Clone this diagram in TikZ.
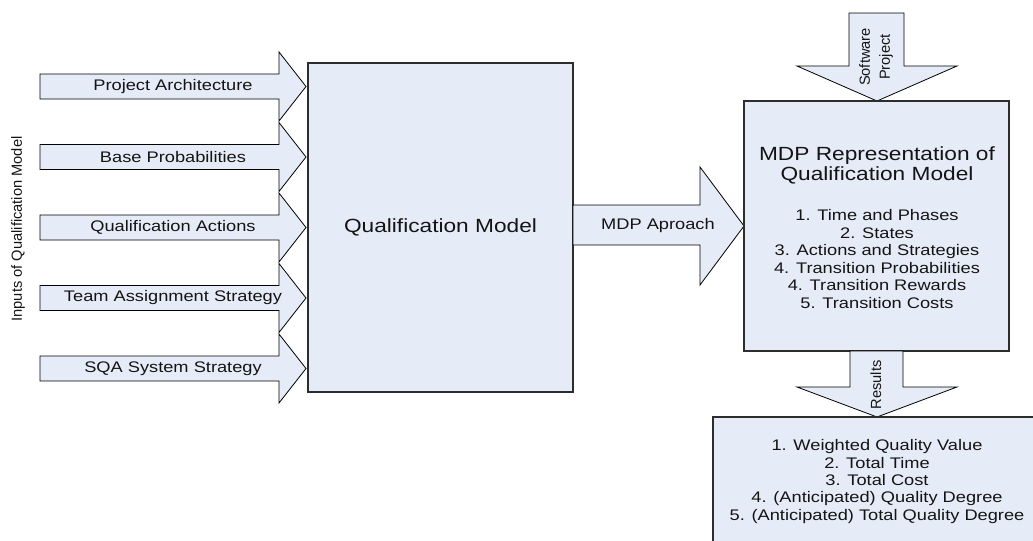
\documentclass[tikz,border=0pt]{standalone}
\usepackage{fontspec}
\setmainfont[FakeStretch=1.19]{Liberation Sans}
\newfontfamily\rotfont{Liberation Sans}
\usetikzlibrary{fit}
\definecolor{fillblue}{RGB}{230,236,247}
\definecolor{edgegray}{RGB}{45,45,45}
\definecolor{txt}{RGB}{20,20,20}
\tikzset{
  box/.style={draw=edgegray, fill=fillblue, line width=0.8pt, inner sep=0pt},
  barrow/.style={draw=black, fill=fillblue, line width=0.6pt, line join=miter},
  lbl/.style={font=\fontsize{11.5}{13.2}\selectfont, text=txt, inner sep=0pt, align=center},
  biglbl/.style={font=\fontsize{14.3}{15}\selectfont, text=txt, inner sep=0pt, align=center},
  rotlbl/.style={font=\rotfont\fontsize{11}{15}\selectfont, text=txt, rotate=90, inner sep=0pt, align=center},
}
\begin{document}
\begin{tikzpicture}[x=0.75pt, y=-0.75pt]
\path[use as bounding box] (0,0) rectangle (1033,540);
\clip (0,0) rectangle (1033,540);

% input arrows
\foreach \i/\yc/\t in {1/86.5/Project Architecture, 2/157/Base Probabilities, 3/227.5/Qualification Actions, 4/298/Team Assignment Strategy, 5/368.5/SQA System Strategy}{
  \draw[barrow] (40,\yc-12.5) -- (279,\yc-12.5) -- (279,\yc-34.5) -- (306,\yc) -- (279,\yc+34.5) -- (279,\yc+12.5) -- (40,\yc+12.5) -- cycle;
  \node[lbl] (in\i) at (173,\yc) {\t};
}
\node[rotlbl] (inputs) at (18,229) {Inputs of Qualification Model};

% qualification model box
\node[box, fit={(308,63) (573,392)}] (qm) {};
\node[biglbl] (qmt) at (qm.center) {Qualification Model};

% MDP approach arrow
\draw[barrow] (573,205) -- (700,205) -- (700,167) -- (744,226) -- (700,285) -- (700,245) -- (573,245) -- cycle;
\node[lbl] (mdpa) at (658,226) {MDP Aproach};

% software project arrow
\draw[barrow] (849,13) -- (904,13) -- (904,66) -- (957,66) -- (877,101) -- (797,66) -- (849,66) -- cycle;

% MDP box
\node[box, fit={(744,101) (1009,351)}] (mdp) {};
\node[biglbl] (mdpt) at (877,165) {MDP Representation of\\Qualification Model};
\node[lbl, font=\fontsize{11.5}{13.2}\selectfont] (mdpl) at (877,259) {1. Time and Phases\\2. States\\3. Actions and Strategies\\4. Transition Probabilities\\4. Transition Rewards\\5. Transition Costs};

\node[rotlbl] (swp) at (876,57) {Software\\Project};

% results arrow
\draw[barrow] (850,351) -- (850,387) -- (797,387) -- (877,417) -- (957,387) -- (903,387) -- (903,351) -- cycle;
\node[rotlbl] (res) at (876,385) {Results};

% results box
\node[box, fit={(713,417) (1045,555)}] (rb) {};
\node[lbl, font=\fontsize{11.5}{13}\selectfont] (rbl) at (877,481.5) {1. Weighted Quality Value\\2. Total Time\\3. Total Cost\\4. (Anticipated) Quality Degree\\5. (Anticipated) Total Quality Degree};
\end{tikzpicture}
\end{document}
